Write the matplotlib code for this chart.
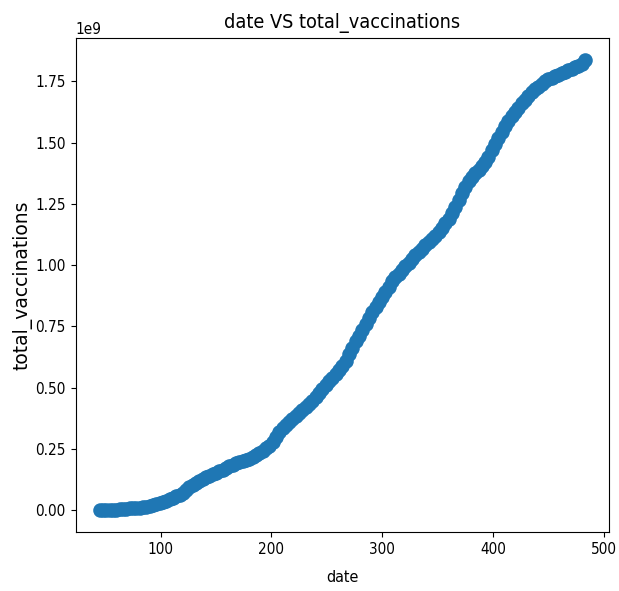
import matplotlib
matplotlib.use("Agg")
import matplotlib.pyplot as plt
import numpy as np

dates = list(range(45, 484, 3))
total_vaccinations = [
    0.000, 0.000, 0.000, 0.001, 0.001, 0.002, 0.003, 0.004, 0.006, 0.007,
    0.008, 0.009, 0.010, 0.012, 0.014, 0.017, 0.020, 0.023, 0.028, 0.033,
    0.038, 0.043, 0.049, 0.056, 0.062, 0.070, 0.080, 0.092, 0.102, 0.112,
    0.120, 0.127, 0.134, 0.140, 0.146, 0.152, 0.158, 0.165, 0.172, 0.179,
    0.185, 0.190, 0.194, 0.199, 0.203, 0.208, 0.215, 0.223, 0.232, 0.242,
    0.252, 0.263, 0.278, 0.298, 0.318, 0.335, 0.347, 0.359, 0.371, 0.385,
    0.398, 0.410, 0.422, 0.434, 0.447, 0.462, 0.478, 0.494, 0.510, 0.525,
    0.540, 0.555, 0.570, 0.588, 0.610, 0.635, 0.662, 0.688, 0.712, 0.736,
    0.760, 0.784, 0.807, 0.828, 0.849, 0.870, 0.891, 0.912, 0.934, 0.950,
    0.965, 0.980, 0.995, 1.010, 1.025, 1.040, 1.053, 1.066, 1.080, 1.093,
    1.105, 1.120, 1.135, 1.152, 1.170, 1.190, 1.213, 1.238, 1.266, 1.293,
    1.320, 1.342, 1.360, 1.375, 1.390, 1.405, 1.422, 1.442, 1.470, 1.496,
    1.520, 1.544, 1.567, 1.588, 1.607, 1.625, 1.643, 1.660, 1.675, 1.690,
    1.705, 1.717, 1.729, 1.741, 1.751, 1.758, 1.764, 1.770, 1.776, 1.783,
    1.790, 1.796, 1.802, 1.808, 1.814, 1.822, 1.836,
]

x = np.array(dates)
y = np.array(total_vaccinations) * 1e9

plt.rcParams['font.family'] = ['DejaVu Sans']
plt.rcParams['font.stretch'] = 'condensed'
plt.rcParams['font.size'] = 11

fig = plt.figure(figsize=(6.19, 5.91), dpi=100)
ax = fig.add_axes([0.122, 0.099, 0.862, 0.837])

ax.scatter(x, y, s=110, color='#1f77b4', linewidths=0)

ax.set_title('date VS total_vaccinations', fontsize=14.2, pad=7)
ax.set_xlabel('date', fontsize=11.5, labelpad=9)
# vertical text in the reference is stretched along its length
ax.set_ylabel('total_vaccinations', fontsize=13.5, fontstretch='normal', labelpad=2)
ax.tick_params(labelsize=11)

fig.savefig('out.png', dpi=100)
